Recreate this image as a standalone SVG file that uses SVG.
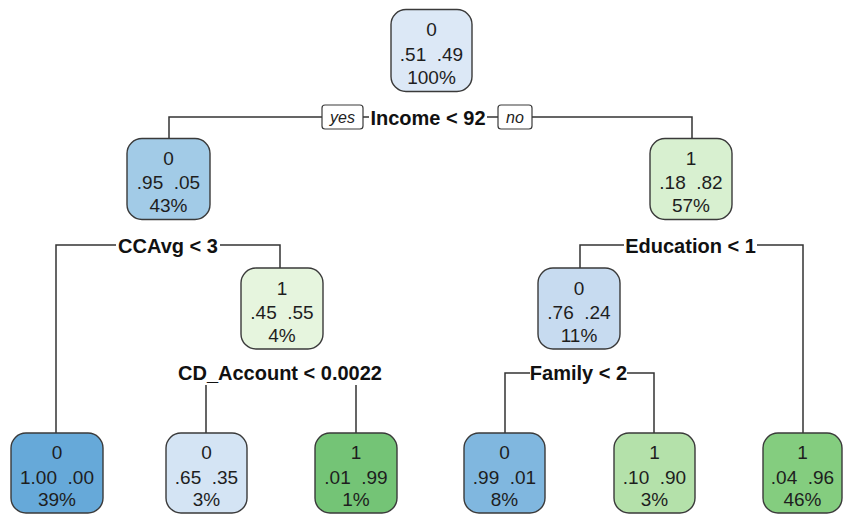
<svg xmlns="http://www.w3.org/2000/svg" width="843" height="518" viewBox="0 0 843 518">
<style>
.bg{fill:#ffffff}
.box{stroke:#3a3a3a;stroke-width:1.4}
.nt{font-family:"Liberation Sans",Arial,sans-serif;font-size:19px;fill:#1e1e1e;text-anchor:middle;white-space:pre}
.sp{font-family:"Liberation Sans",Arial,sans-serif;font-size:20px;font-weight:bold;fill:#111;text-anchor:middle}
.yn{font-family:"Liberation Sans",Arial,sans-serif;font-size:16px;font-style:italic;fill:#222;text-anchor:middle}
.ynb{fill:#fff;stroke:#3a3a3a;stroke-width:1.2}
.ln{fill:none;stroke:#333;stroke-width:1.5}
</style>
<rect class="bg" x="0" y="0" width="843" height="518"/>
<g id="connectors">
<path class="ln" d="M169,138.5 V117 H322 M363,117 H369 M487,117 H498 M532,117 H692 V138.5"/>
<path class="ln" d="M56,433 V245 H116 M220,245 H280 V268"/>
<path class="ln" d="M206,385 V433 M356,385 V433"/>
<path class="ln" d="M580,268 V245 H624 M757,245 H803 V433"/>
<path class="ln" d="M505,433 V373 H530 M627,373 H654 V433"/>
<rect class="ynb" x="322" y="105" width="41" height="24" rx="3"/>
<text class="yn" x="342.5" y="123">yes</text>
<rect class="ynb" x="498" y="105" width="34" height="24" rx="3"/>
<text class="yn" x="515" y="123">no</text>
</g>
<g id="splits">
<text class="sp" x="428" y="124.5">Income &lt; 92</text>
<text class="sp" x="168" y="252.5">CCAvg &lt; 3</text>
<text class="sp" x="280" y="379.5">CD_Account &lt; 0.0022</text>
<text class="sp" x="690.5" y="252.5">Education &lt; 1</text>
<text class="sp" x="578.5" y="380">Family &lt; 2</text>
</g>
<g id="node1">
<rect class="box" x="391" y="9.5" width="81" height="82" rx="15" fill="#dce8f6"/>
<text class="nt" x="431.5" y="36">0</text>
<text class="nt" x="431.5" y="60.5">.51  .49</text>
<text class="nt" x="431.5" y="84">100%</text>
</g>
<g id="node2">
<rect class="box" x="127" y="138.5" width="83" height="81" rx="15" fill="#a2cbe7"/>
<text class="nt" x="168.5" y="165">0</text>
<text class="nt" x="168.5" y="189">.95  .05</text>
<text class="nt" x="168.5" y="212">43%</text>
</g>
<g id="node3">
<rect class="box" x="650" y="138.5" width="82" height="81" rx="15" fill="#d8f0d0"/>
<text class="nt" x="691" y="165">1</text>
<text class="nt" x="691" y="189">.18  .82</text>
<text class="nt" x="691" y="212">57%</text>
</g>
<g id="node4">
<rect class="box" x="241" y="268" width="82" height="81" rx="15" fill="#e6f5de"/>
<text class="nt" x="282" y="294.5">1</text>
<text class="nt" x="282" y="318.5">.45  .55</text>
<text class="nt" x="282" y="341.5">4%</text>
</g>
<g id="node5">
<rect class="box" x="538" y="268" width="82" height="81" rx="15" fill="#c7dbf0"/>
<text class="nt" x="579" y="294.5">0</text>
<text class="nt" x="579" y="318.5">.76  .24</text>
<text class="nt" x="579" y="341.5">11%</text>
</g>
<g id="leaf1">
<rect class="box" x="11" y="433" width="92" height="80" rx="15" fill="#66a9d9"/>
<text class="nt" x="57" y="459">0</text>
<text class="nt" x="57" y="483.5">1.00  .00</text>
<text class="nt" x="57" y="506">39%</text>
</g>
<g id="leaf2">
<rect class="box" x="166" y="433" width="81" height="80" rx="15" fill="#d4e4f4"/>
<text class="nt" x="206.5" y="459">0</text>
<text class="nt" x="206.5" y="483.5">.65  .35</text>
<text class="nt" x="206.5" y="506">3%</text>
</g>
<g id="leaf3">
<rect class="box" x="315" y="433" width="82" height="80" rx="15" fill="#74c476"/>
<text class="nt" x="356" y="459">1</text>
<text class="nt" x="356" y="483.5">.01  .99</text>
<text class="nt" x="356" y="506">1%</text>
</g>
<g id="leaf4">
<rect class="box" x="464" y="433" width="81" height="80" rx="15" fill="#80b7df"/>
<text class="nt" x="504.5" y="459">0</text>
<text class="nt" x="504.5" y="483.5">.99  .01</text>
<text class="nt" x="504.5" y="506">8%</text>
</g>
<g id="leaf5">
<rect class="box" x="614" y="433" width="81" height="80" rx="15" fill="#b4e1aa"/>
<text class="nt" x="654.5" y="459">1</text>
<text class="nt" x="654.5" y="483.5">.10  .90</text>
<text class="nt" x="654.5" y="506">3%</text>
</g>
<g id="leaf6">
<rect class="box" x="763" y="433" width="79" height="80" rx="15" fill="#84cd7f"/>
<text class="nt" x="802.5" y="459">1</text>
<text class="nt" x="802.5" y="483.5">.04  .96</text>
<text class="nt" x="802.5" y="506">46%</text>
</g>
</svg>
